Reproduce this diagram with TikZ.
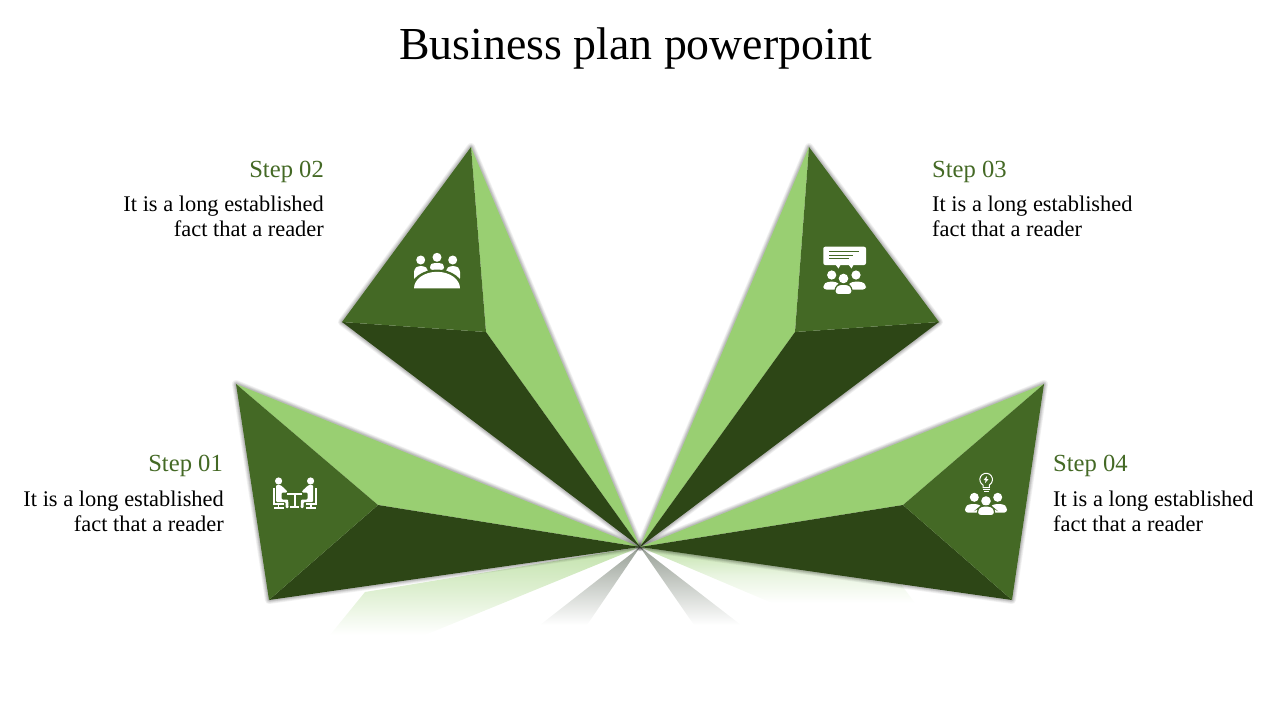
\documentclass[tikz,border=0pt]{standalone}
\usepackage{fontspec}
\setmainfont{Liberation Serif}
\usetikzlibrary{calc}

\definecolor{leafmid}{HTML}{446925}
\definecolor{leaflight}{HTML}{99CF72}
\definecolor{leafdark}{HTML}{2D4616}
\definecolor{stepgreen}{HTML}{446925}
\definecolor{mirrorgray}{HTML}{98A096}

\tikzset{
  headline/.style={font=\fontsize{45.8}{50}\selectfont,anchor=base},
  steptitle/.style={font=\fontsize{24.6}{27}\selectfont,text=stepgreen,inner sep=0pt},
  steptext/.style={font=\fontsize{22.4}{25}\selectfont,inner sep=0pt},
  softedge/.style={draw=black,opacity=0.05,line join=round},
  icon/.style={fill=white,draw=none},
  iconcut/.style={draw=leafmid,line width=1.2pt}
}

% one side person of a group, shoulders on the given line
\newcommand{\shoulders}[4]{%
  \fill[icon,rounded corners=3pt] (#1,#4) -- (#1,#3+3) -- (#1+4,#3) -- (#2-4,#3) -- (#2,#3+3) -- (#2,#4) -- cycle;
}

\begin{document}
\begin{tikzpicture}[x=1pt,y=-1pt]
  \useasboundingbox (0,0) rectangle (1280,720);

  % reflections under the leaves
  \shade[top color=leaflight!60,bottom color=white,middle color=leaflight!32] (640,547) -- (365,592) -- (330,635) -- (425,635) -- cycle;
  \shade[top color=leaflight!60,bottom color=white,middle color=leaflight!22] (640,547) -- (772,603) -- (915,603) -- (900,583) -- cycle;
  \shade[top color=mirrorgray,bottom color=white] (640,547) -- (540,625) -- (587,625) -- cycle;
  \shade[top color=mirrorgray,bottom color=white] (640,547) -- (694,625) -- (741,625) -- cycle;

  % the four leaves: tip, inner point, side point
  \foreach \tipa/\inner/\tipb in {
      {236,384}/{378,505}/{269,600},
      {471,147}/{486,332}/{342,322},
      {809,147}/{795,332}/{939,322},
      {1044,384}/{903,505}/{1012,600}} {
    \foreach \w in {8,6.5,5,4,3,2}
      \draw[softedge,line width=\w pt] (\tipa) -- (640,547) -- (\tipb) -- cycle;
    \fill[leaflight] (\tipa) -- (\inner) -- (640,547) -- cycle;
    \fill[leafdark] (\tipb) -- (\inner) -- (640,547) -- cycle;
    \fill[leafmid] (\tipa) -- (\inner) -- (\tipb) -- cycle;
  }

  % title
  \node[headline] (title) at (636,59) {Business plan powerpoint};

  % step texts
  \node[steptitle,anchor=base east] (step1) at (223,471) {Step 01};
  \node[steptext,anchor=north east,align=right] (text1) at (224,491) {It is a long established\\fact that a reader};
  \node[steptitle,anchor=base east] (step2) at (324,177) {Step 02};
  \node[steptext,anchor=north east,align=right] (text2) at (324,196) {It is a long established\\fact that a reader};
  \node[steptitle,anchor=base west] (step3) at (932,177) {Step 03};
  \node[steptext,anchor=north west,align=left] (text3) at (932,196) {It is a long established\\fact that a reader};
  \node[steptitle,anchor=base west] (step4) at (1053,471) {Step 04};
  \node[steptext,anchor=north west,align=left] (text4) at (1053,491) {It is a long established\\fact that a reader};

  % icon 1: two people at a table
  \fill[icon] (287,493) rectangle (302,495);
  \fill[icon] (293.6,495) rectangle (295.6,506);
  \fill[icon] (290,506) rectangle (299,508);
  \foreach \sgn in {1,-1} {
    \begin{scope}[shift={(294.6,0)},xscale=\sgn]
      \fill[icon] (-16,481) circle (3.6);
      \fill[icon,rounded corners=1pt] (-18.5,485) -- (-14,485) -- (-7.5,491) -- (-7.5,492.5) -- (-13,492.5) -- (-13,499.5) -- (-6.5,499.5) -- (-6,508) -- (-9,508) -- (-9,502) -- (-18.5,502) -- cycle;
      \fill[icon] (-22,488) rectangle (-20,503);
      \fill[icon] (-22,503) rectangle (-11,505);
      \fill[icon] (-17,505) rectangle (-15.5,507);
      \fill[icon] (-21,507) rectangle (-11,508.5);
    \end{scope}
  }

  % icon 2: people round a table
  \fill[icon] (420.7,260) circle (4.5);
  \fill[icon] (437,257.3) circle (4.5);
  \fill[icon] (452.7,260) circle (4.5);
  \shoulders{414}{428}{266}{281}
  \shoulders{446}{460}{266}{281}
  \fill[icon,rounded corners=2.5pt] (430,270) -- (430,265) -- (433,263) -- (441,263) -- (444,265) -- (444,270) -- cycle;
  \fill[leafmid] (410,290) arc (-180:0:27 and 20.5) -- cycle;
  \fill[icon] (414,288.3) arc (-180:0:23 and 16.5) -- cycle;

  % icon 3: people under a speech bubble
  \fill[icon,rounded corners=2pt] (823.3,246.7) rectangle (866,265);
  \fill[icon] (835,264) -- (841,264) -- (838.5,268.5) -- cycle;
  \fill[icon] (848,264) -- (854,264) -- (851.5,268.5) -- cycle;
  \draw[iconcut,line width=0.8pt] (829,251.7) -- (859,251.7);
  \draw[iconcut,line width=0.8pt] (829,255) -- (853,255);
  \draw[iconcut,line width=0.8pt] (829,258.3) -- (849,258.3);
  \fill[icon] (831.7,275) circle (4.6);
  \fill[icon] (856,275) circle (4.6);
  \shoulders{823.3}{840}{281.7}{289.5}
  \shoulders{848}{866}{281.7}{289.5}
  \fill[icon] (843.5,278.5) circle (4.8);
  \draw[iconcut,line width=1.2pt,fill=white,rounded corners=3pt] (835,294.6) -- (835,287.5) -- (839,284.2) -- (848,284.2) -- (852,287.5) -- (852,294.6) -- cycle;

  % icon 4: people under a light bulb
  \draw[draw=white,line width=1pt] (983,487.5) -- (983,485) arc (120:420:6.3) -- (989.3,487.5) -- cycle;
  \fill[icon] (983,489) rectangle (989.5,490.2);
  \fill[icon] (984,491) rectangle (988.5,492.2);
  \fill[icon] (987,476) -- (983.6,480) -- (985.6,480) -- (985,483.2) -- (988.6,479) -- (986.5,479) -- cycle;
  \fill[icon] (974.3,497.3) circle (4.5);
  \fill[icon] (997.7,497.3) circle (4.5);
  \shoulders{965}{982}{504}{512.7}
  \shoulders{990}{1007}{504}{512.7}
  \fill[icon] (986,501) circle (4.8);
  \draw[iconcut,line width=1.2pt,fill=white,rounded corners=3pt] (977.5,515.6) -- (977.5,509) -- (981,506) -- (991,506) -- (994.5,509) -- (994.5,515.6) -- cycle;
\end{tikzpicture}
\end{document}
